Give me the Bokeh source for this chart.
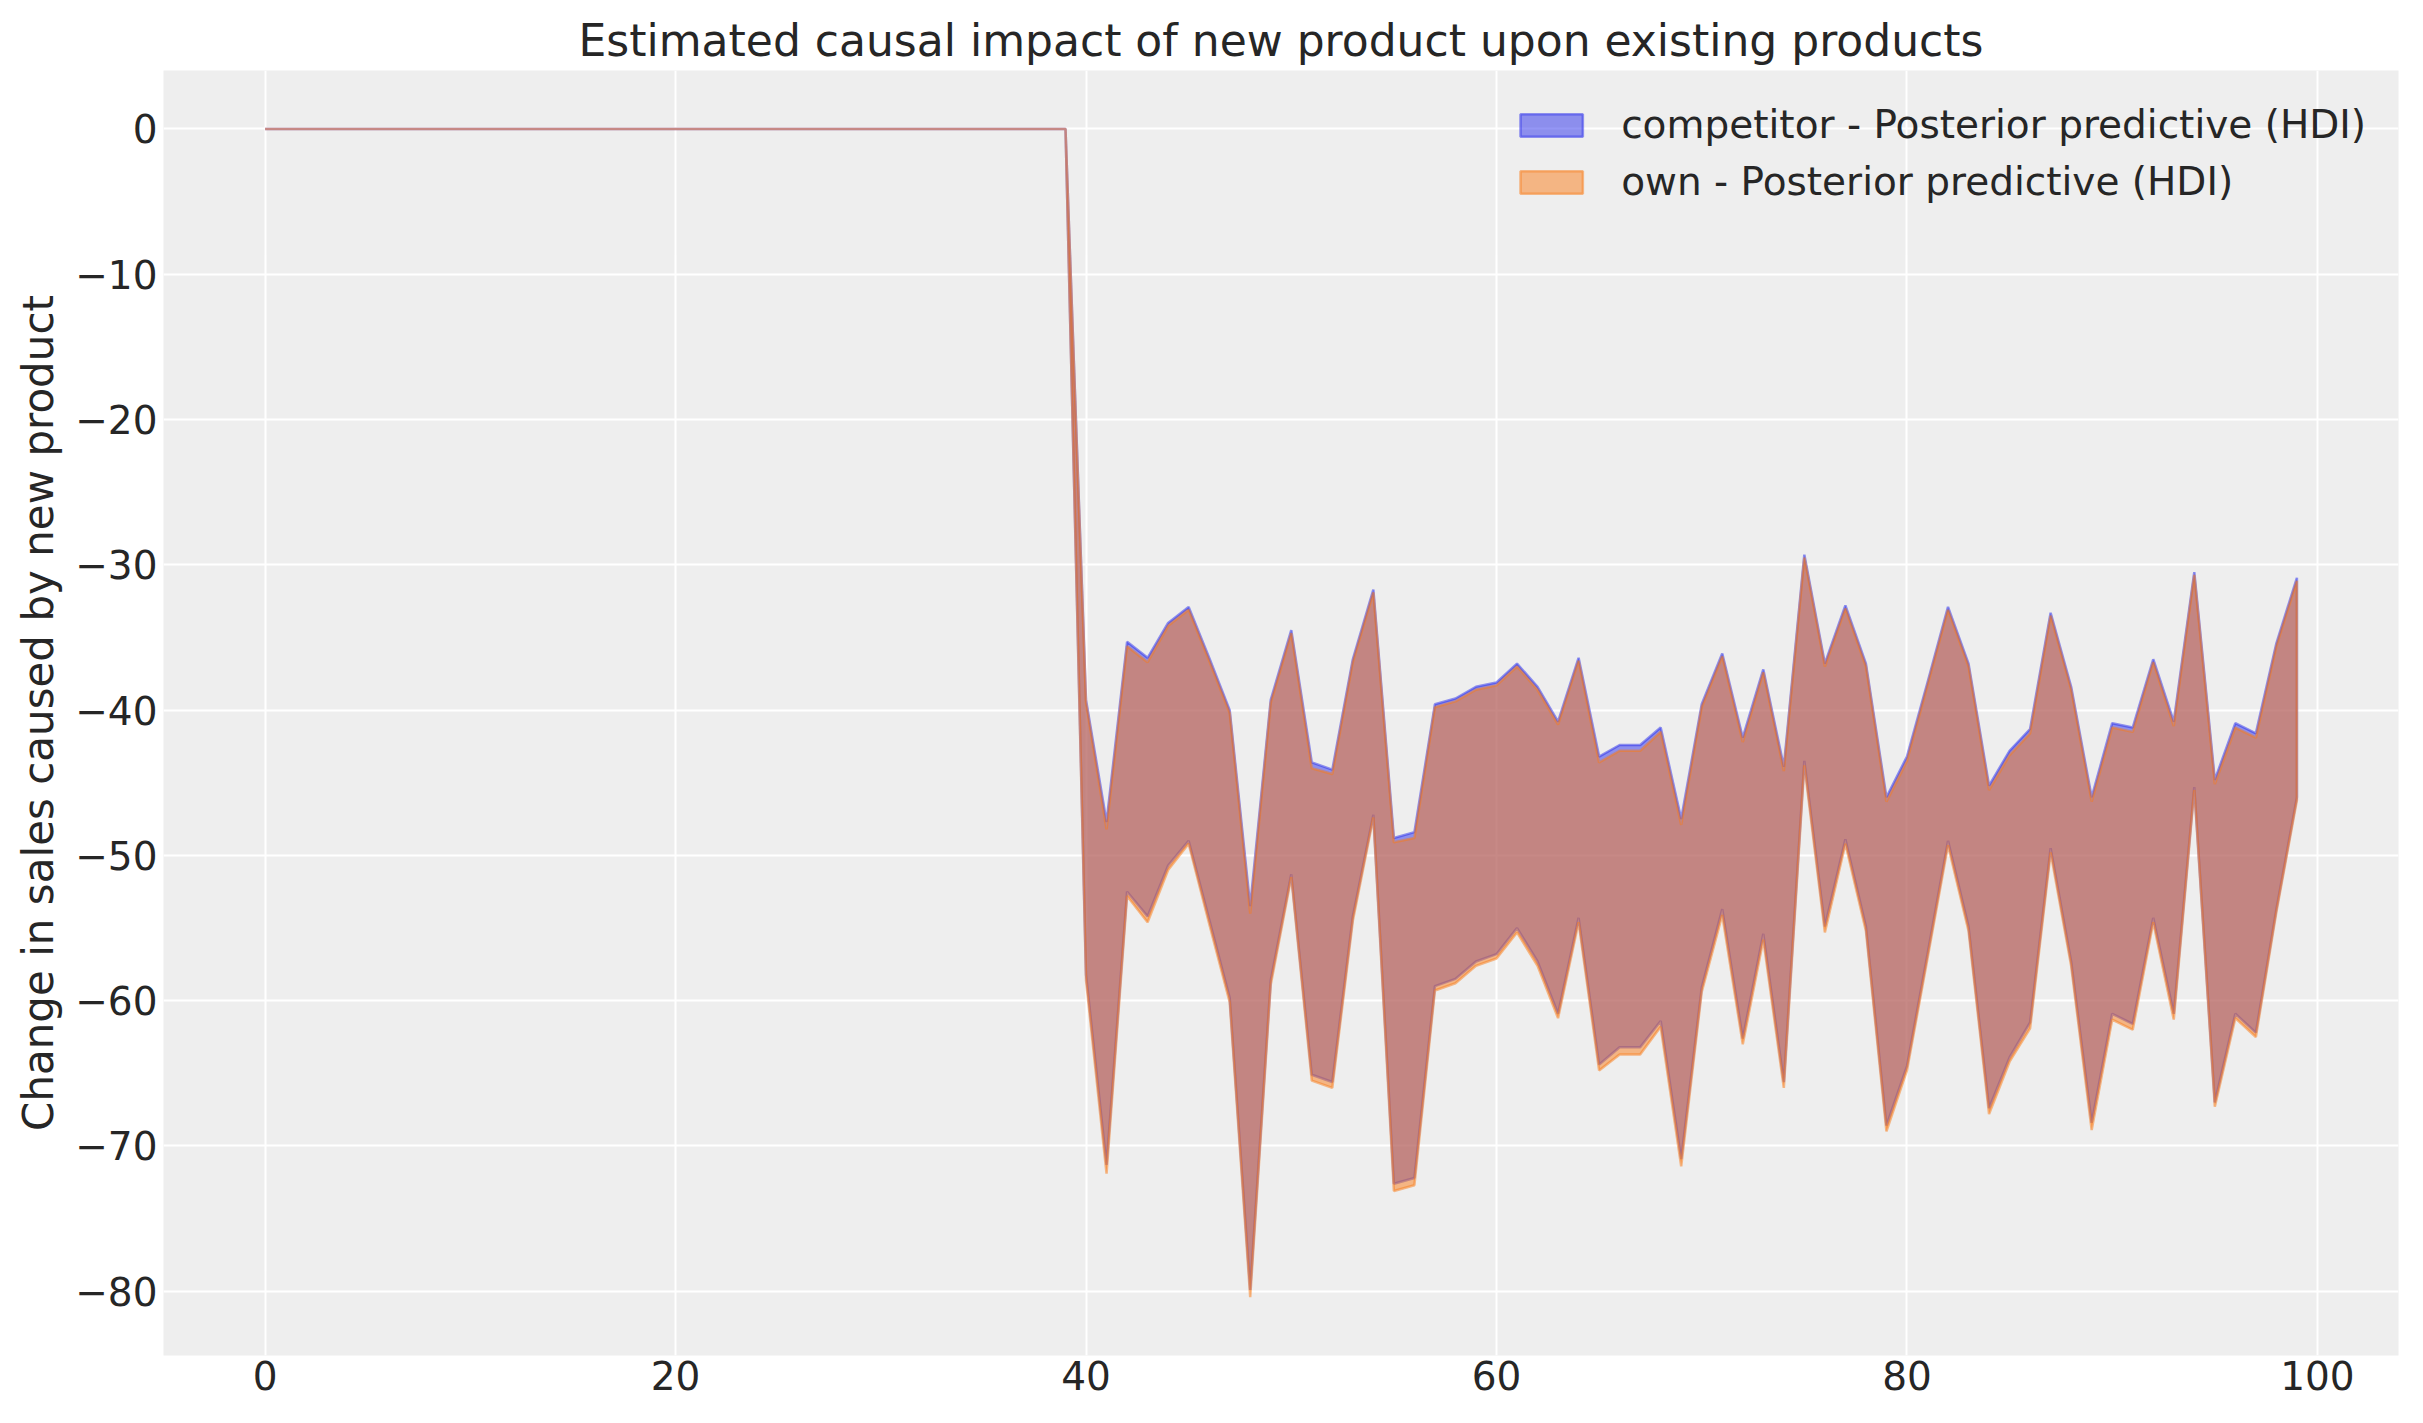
from bokeh.plotting import figure
from bokeh.models import FixedTicker, Range1d, Legend, LegendItem
from bokeh.embed import file_html
from bokeh.resources import INLINE

# ---------------- data ----------------
time_index = list(range(100))

pre_period_zeros = [0.0] * 40  # t = 0 .. 39

competitor_upper_post = [
    -39.3, -47.7, -35.3, -36.4, -34.0, -32.9, -36.4, -40.0, -53.5, -39.3,
    -34.5, -43.6, -44.1, -36.5, -31.7, -48.8, -48.4, -39.6, -39.2, -38.4,
    -38.1, -36.8, -38.4, -40.8, -36.4, -43.2, -42.4, -42.4, -41.2, -47.5,
    -39.6, -36.1, -41.9, -37.2, -43.9, -29.3, -36.8, -32.8, -36.8, -46.0,
    -43.2, -38.1, -32.9, -36.8, -45.2, -42.8, -41.3, -33.3, -38.4, -46.0,
    -40.9, -41.2, -36.5, -40.8, -30.5, -44.8, -40.9, -41.6, -35.4, -30.9,
]
competitor_lower_post = [
    -58.2, -71.3, -52.5, -54.2, -50.7, -49.0, -54.4, -59.8, -79.9, -58.6,
    -51.3, -65.1, -65.6, -54.2, -47.2, -72.6, -72.2, -59.0, -58.5, -57.3,
    -56.8, -55.0, -57.3, -60.9, -54.3, -64.4, -63.2, -63.2, -61.4, -70.9,
    -59.1, -53.7, -62.6, -55.4, -65.6, -43.5, -54.9, -48.9, -54.9, -68.6,
    -64.5, -56.8, -49.0, -54.9, -67.4, -63.9, -61.5, -49.5, -57.3, -68.4,
    -60.9, -61.6, -54.3, -60.9, -45.3, -67.0, -60.9, -62.2, -53.7, -46.0,
]
own_upper_post = [
    -39.5, -48.2, -35.6, -36.7, -34.2, -33.1, -36.6, -40.2, -54.0, -39.5,
    -34.7, -44.0, -44.4, -36.7, -31.9, -49.1, -48.8, -39.8, -39.4, -38.6,
    -38.3, -37.0, -38.6, -41.0, -36.6, -43.6, -42.8, -42.8, -41.5, -47.9,
    -39.8, -36.3, -42.2, -37.4, -44.2, -29.5, -37.0, -33.0, -37.0, -46.3,
    -43.5, -38.3, -33.1, -37.0, -45.5, -43.1, -41.6, -33.5, -38.6, -46.3,
    -41.2, -41.5, -36.7, -41.1, -30.7, -45.1, -41.2, -41.9, -35.6, -31.1,
]
own_lower_post = [
    -58.6, -71.9, -52.8, -54.6, -51.0, -49.2, -54.7, -60.1, -80.4, -58.9,
    -51.5, -65.5, -66.0, -54.5, -47.4, -73.1, -72.7, -59.3, -58.8, -57.6,
    -57.1, -55.3, -57.6, -61.2, -54.6, -64.8, -63.7, -63.7, -61.8, -71.4,
    -59.4, -54.1, -63.0, -55.8, -66.0, -43.8, -55.3, -49.2, -55.2, -69.0,
    -64.8, -57.1, -49.3, -55.2, -67.8, -64.2, -61.9, -49.8, -57.6, -68.9,
    -61.3, -62.0, -54.6, -61.3, -45.5, -67.3, -61.2, -62.5, -53.9, -46.2,
]

competitor_upper = pre_period_zeros + competitor_upper_post
competitor_lower = pre_period_zeros + competitor_lower_post
own_upper = pre_period_zeros + own_upper_post
own_lower = pre_period_zeros + own_lower_post

x_ticks = [0, 20, 40, 60, 80, 100]
x_tick_labels = ["0", "20", "40", "60", "80", "100"]
y_ticks = [-80, -70, -60, -50, -40, -30, -20, -10, 0]
y_tick_labels = ["\u221280", "\u221270", "\u221260", "\u221250", "\u221240",
                 "\u221230", "\u221220", "\u221210", "0"]

title_text = "Estimated causal impact of new product upon existing products"
y_label_text = "Change in sales caused by new product"
legend_labels = ["competitor - Posterior predictive (HDI)",
                 "own - Posterior predictive (HDI)"]
series_colors = ["#2a2eec", "#fa7c17"]

# ---------------- figure ----------------
FONT = "DejaVu Sans"
TXT = "#262626"

p = figure(
    frame_width=2235, frame_height=1285,
    output_backend="svg", toolbar_location=None,
    x_range=Range1d(-4.95, 103.95), y_range=Range1d(-84.42, 4.02),
    min_border_left=163, min_border_right=6, min_border_top=70, min_border_bottom=55,
    background_fill_color="#eeeeee", border_fill_color="white",
    title=title_text,
)
p.outline_line_color = None

p.title.text_font = FONT
p.title.text_font_size = "44px"
p.title.text_font_style = "normal"
p.title.text_color = TXT
p.title.align = "center"
p.title.standoff = 9

for ax in (p.xaxis[0], p.yaxis[0]):
    ax.axis_line_color = None
    ax.major_tick_line_color = None
    ax.minor_tick_line_color = None
    ax.major_tick_out = 0
    ax.major_tick_in = 0
    ax.minor_tick_out = 0
    ax.minor_tick_in = 0
    ax.major_label_text_font = FONT
    ax.major_label_text_font_size = "39px"
    ax.major_label_text_color = TXT
    ax.axis_label_text_font = FONT
    ax.axis_label_text_font_size = "42px"
    ax.axis_label_text_font_style = "normal"
    ax.axis_label_text_color = TXT

p.xaxis.ticker = FixedTicker(ticks=x_ticks)
p.xaxis.major_label_overrides = dict(zip(x_ticks, x_tick_labels))
p.xaxis.major_label_standoff = 5
p.yaxis.ticker = FixedTicker(ticks=y_ticks)
p.yaxis.major_label_overrides = dict(zip(y_ticks, y_tick_labels))
p.yaxis.major_label_standoff = 6
p.yaxis.axis_label = y_label_text
p.yaxis.axis_label_standoff = 9

p.xgrid.ticker = FixedTicker(ticks=x_ticks)
p.ygrid.ticker = FixedTicker(ticks=y_ticks)
for g in (p.xgrid[0], p.ygrid[0]):
    g.grid_line_color = "white"
    g.grid_line_width = 2

# ---------------- bands ----------------
def band_polygon(x, upper, lower):
    return list(x) + list(x)[::-1], list(upper) + list(lower)[::-1]

cx, cy = band_polygon(time_index, competitor_upper, competitor_lower)
ox, oy = band_polygon(time_index, own_upper, own_lower)

r_comp = p.patch(cx, cy, fill_color=series_colors[0], fill_alpha=0.5,
                 line_color=series_colors[0], line_alpha=0.5, line_width=2.5)
r_own = p.patch(ox, oy, fill_color=series_colors[1], fill_alpha=0.5,
                line_color=series_colors[1], line_alpha=0.5, line_width=2.5)

legend = Legend(
    items=[LegendItem(label=legend_labels[0], renderers=[r_comp]),
           LegendItem(label=legend_labels[1], renderers=[r_own])],
    location="top_right",
)
legend.label_text_font = FONT
legend.label_text_font_size = "39px"
legend.label_text_color = TXT
legend.glyph_width = 78
legend.glyph_height = 28
legend.label_standoff = 31
legend.spacing = 12
legend.padding = 32
legend.margin = 0
legend.background_fill_alpha = 0
legend.border_line_alpha = 0
p.add_layout(legend)

open("out.html", "w").write(file_html(p, INLINE))
